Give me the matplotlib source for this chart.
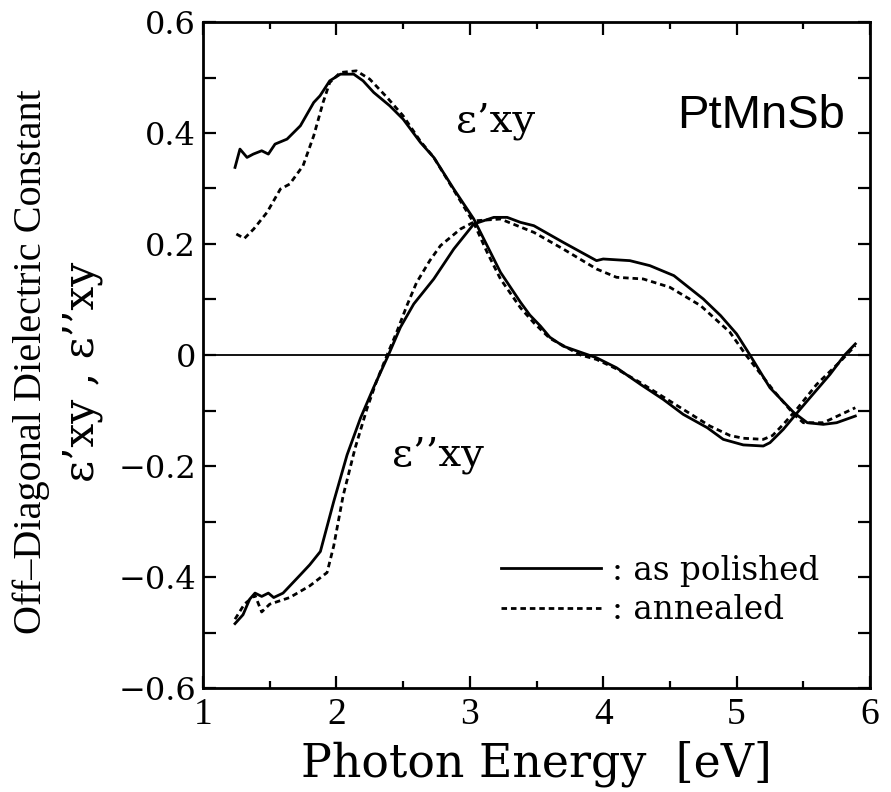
import numpy as np
import matplotlib
matplotlib.use("Agg")
import matplotlib.pyplot as plt
from matplotlib.lines import Line2D

# ---- data ----
# eps'_xy, as polished (solid)
e1p_x = [1.24, 1.277, 1.33, 1.377, 1.44, 1.49, 1.54, 1.63, 1.73, 1.83, 1.877, 1.95,
         2.03, 2.13, 2.20, 2.28, 2.40, 2.50, 2.63, 2.73, 2.88, 3.03, 3.13, 3.23,
         3.38, 3.45, 3.53, 3.60, 3.70, 3.83, 3.95, 4.10, 4.28, 4.45, 4.60, 4.78,
         4.90, 5.05, 5.20, 5.25, 5.35, 5.44, 5.55, 5.70, 5.81, 5.89]
e1p_y = [0.338, 0.371, 0.356, 0.362, 0.368, 0.362, 0.380, 0.389, 0.413, 0.455, 0.467, 0.494,
         0.506, 0.506, 0.494, 0.473, 0.449, 0.425, 0.383, 0.356, 0.299, 0.245, 0.197, 0.149,
         0.095, 0.072, 0.052, 0.032, 0.016, 0.005, -0.005, -0.023, -0.053, -0.080, -0.107, -0.131,
         -0.152, -0.162, -0.164, -0.158, -0.134, -0.108, -0.077, -0.035, 0.0, 0.02]

# eps'_xy, annealed (dashed)
e1a_x = [1.25, 1.31, 1.38, 1.48, 1.58, 1.65, 1.75, 1.83, 1.90, 1.95, 2.03, 2.15,
         2.25, 2.38, 2.50, 2.63, 2.73, 2.88, 3.03, 3.13, 3.23, 3.38, 3.48, 3.60,
         3.83, 3.95, 4.10, 4.28, 4.58, 4.80, 4.95, 5.05, 5.20, 5.27, 5.35, 5.45,
         5.60, 5.78, 5.89]
e1a_y = [0.218, 0.210, 0.227, 0.257, 0.299, 0.308, 0.341, 0.395, 0.455, 0.491, 0.509, 0.512,
         0.497, 0.464, 0.431, 0.385, 0.356, 0.297, 0.238, 0.185, 0.137, 0.085, 0.058, 0.030,
         0.0, -0.008, -0.025, -0.050, -0.095, -0.128, -0.145, -0.150, -0.152, -0.145, -0.125, -0.098,
         -0.053, -0.011, 0.017]

# eps''_xy, as polished (solid)
e2p_x = [1.24, 1.30, 1.35, 1.39, 1.44, 1.49, 1.53, 1.60, 1.73, 1.80, 1.88, 1.92,
         1.98, 2.08, 2.18, 2.28, 2.39, 2.48, 2.58, 2.73, 2.88, 3.03, 3.18, 3.28,
         3.38, 3.48, 3.70, 3.95, 4.00, 4.20, 4.35, 4.53, 4.75, 4.88, 5.00, 5.10,
         5.25, 5.43, 5.53, 5.65, 5.75, 5.89]
e2p_y = [-0.484, -0.468, -0.440, -0.429, -0.435, -0.429, -0.437, -0.429, -0.396, -0.378, -0.354, -0.318,
         -0.264, -0.180, -0.114, -0.058, 0.0, 0.050, 0.092, 0.137, 0.191, 0.236, 0.248, 0.248,
         0.239, 0.233, 0.203, 0.170, 0.173, 0.170, 0.161, 0.143, 0.101, 0.071, 0.038, 0.0,
         -0.059, -0.104, -0.122, -0.125, -0.122, -0.110]

# eps''_xy, annealed (dashed)
e2a_x = [1.24, 1.31, 1.39, 1.44, 1.50, 1.65, 1.80, 1.93, 1.98, 2.05, 2.14, 2.23,
         2.30, 2.38, 2.45, 2.53, 2.60, 2.70, 2.78, 2.93, 3.05, 3.23, 3.48, 3.70,
         3.95, 4.10, 4.30, 4.50, 4.73, 4.95, 5.07, 5.28, 5.43, 5.50, 5.65, 5.89]
e2a_y = [-0.476, -0.449, -0.433, -0.463, -0.449, -0.437, -0.416, -0.392, -0.344, -0.254, -0.168, -0.096,
         -0.048, 0.0, 0.040, 0.090, 0.130, 0.170, 0.197, 0.227, 0.242, 0.245, 0.221, 0.191,
         0.155, 0.140, 0.137, 0.122, 0.089, 0.041, 0.0, -0.065, -0.107, -0.122, -0.122, -0.095]

xticks = [1, 2, 3, 4, 5, 6]
xtick_labels = ["1", "2", "3", "4", "5", "6"]
yticks = [-0.6, -0.4, -0.2, 0.0, 0.2, 0.4, 0.6]
ytick_labels = ["\u22120.6", "\u22120.4", "\u22120.2", "0", "0.2", "0.4", "0.6"]
legend_labels = [": as polished", ": annealed"]

# ---- figure ----
fig = plt.figure(figsize=(8.91, 7.92), dpi=100)
ax = fig.add_axes([203 / 891, 1 - 688 / 792, 667 / 891, 666 / 792])

lw = 2.0
dash = (2.0, 1.4)
ax.plot(e1p_x, e1p_y, color="black", lw=lw, solid_joinstyle="round")
ax.plot(e1a_x, e1a_y, color="black", lw=lw, linestyle=(0, dash))
ax.plot(e2p_x, e2p_y, color="black", lw=lw, solid_joinstyle="round")
ax.plot(e2a_x, e2a_y, color="black", lw=lw, linestyle=(0, dash))
ax.axhline(0, color="black", lw=1.3)

ax.set_xlim(1, 6)
ax.set_ylim(-0.6, 0.6)
ax.set_xticks(xticks)
ax.set_xticklabels(xtick_labels, family="Liberation Serif", fontsize=27)
ax.set_xticks(np.arange(1.5, 6, 1.0), minor=True)
ax.set_yticks(yticks)
ax.set_yticklabels(ytick_labels, family="DejaVu Serif", fontsize=23)
ax.set_yticks(np.arange(-0.5, 0.6, 0.2), minor=True)

ax.tick_params(which="both", direction="in", top=True, right=True, width=1.6)
ax.tick_params(axis="x", which="major", length=9, pad=7)
ax.tick_params(axis="x", which="minor", length=5)
ax.tick_params(axis="y", which="both", length=9, pad=5)
for s in ax.spines.values():
    s.set_linewidth(2.0)

ax.set_xlabel("Photon Energy  [eV]", family="DejaVu Serif", fontsize=33, labelpad=6)
ax.set_ylabel("Off\u2013Diagonal Dielectric Constant", family="Liberation Serif",
              fontsize=29)
ax.yaxis.label.set_va("center")
ax.yaxis.set_label_coords(-0.258, 0.49)
ax.text(-0.181, 0.475, "\u03b5\u2019xy , \u03b5\u2019\u2019xy", transform=ax.transAxes,
        rotation=90, family="DejaVu Serif", fontsize=30.5, ha="center", va="center")

ax.text(3.19, 0.422, "\u03b5\u2019xy", family="DejaVu Serif", fontsize=29,
        ha="center", va="center")
ax.text(2.76, -0.18, "\u03b5\u2019\u2019xy", family="DejaVu Serif", fontsize=29,
        ha="center", va="center")
ax.text(5.18, 0.43, "PtMnSb", family="Liberation Sans", fontsize=34,
        ha="center", va="center")

handles = [Line2D([], [], color="black", lw=lw),
           Line2D([], [], color="black", lw=lw, linestyle=(0, dash))]
leg = ax.legend(handles, legend_labels, loc="upper left", bbox_to_anchor=(0.447, 0.2),
                frameon=False, borderpad=0, borderaxespad=0, handlelength=3.06,
                handletextpad=0.35, labelspacing=0.22,
                prop={"family": "DejaVu Serif", "size": 23.5})

fig.savefig("out.png", dpi=100)
